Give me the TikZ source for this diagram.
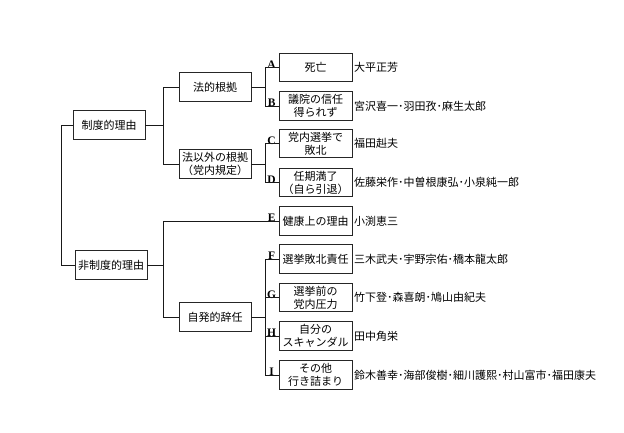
\documentclass[tikz,border=0pt]{standalone}
\usepackage{fontspec}
\setmainfont{Liberation Serif}
\newfontfamily\jp{Noto Sans CJK JP}
\begin{document}
\begin{tikzpicture}[x=1pt,y=-1pt,
  box/.style={draw=black!85,line width=0.8pt,minimum width=73pt,minimum height=28.5pt,inner sep=1pt,align=center,font=\jp\fontsize{11}{13}\selectfont},
  wbox/.style={box,minimum width=72pt},
  who/.style={anchor=west,inner sep=1.5pt,font=\jp\fontsize{11}{13}\selectfont},
  lett/.style={anchor=south,inner sep=0.5pt,font=\bfseries\fontsize{11.5}{11.5}\selectfont},
  conn/.style={line width=0.8pt,black!90}]
\useasboundingbox (0,0) rectangle (624,432);
\coordinate (x0) at (61,0);
\coordinate (x1) at (163,0);
\coordinate (x2) at (265,0);
% level 1
\node[wbox] (s1) at (109,125) {制度的理由};
\node[wbox] (s2) at (111,265) {非制度的理由};
% level 2
\node[wbox] (k1) at (215,87) {法的根拠};
\node[wbox] (k2) at (215,164) {法以外の根拠\\（党内規定）};
\node[wbox] (k3) at (215,317) {自発的辞任};
% level 3
\node[box] (A) at (315.5,67.5) {死亡};
\node[box] (B) at (315.5,106) {議院の信任\\得られず};
\node[box] (C) at (315.5,143.5) {党内選挙で\\敗北};
\node[box] (D) at (315.5,182.5) {任期満了\\（自ら引退）};
\node[box] (E) at (315.5,221) {健康上の理由};
\node[box] (F) at (315.5,259) {選挙敗北責任};
\node[box] (G) at (315.5,297.5) {選挙前の\\党内圧力};
\node[box] (H) at (315.5,336) {自分の\\スキャンダル};
\node[box] (I) at (315.5,375) {その他\\行き詰まり};
% letters
\foreach \n in {A,B,C,D,E,F,G,H,I}
  \node[lett] (l\n) at ([xshift=-7pt,yshift=-1.5pt]\n.west) {\n};
% names
\node[who] (nA) at (A.east) {大平正芳};
\node[who] (nB) at (B.east) {宮沢喜一･羽田孜･麻生太郎};
\node[who] (nC) at (C.east) {福田赳夫};
\node[who] (nD) at (D.east) {佐藤栄作･中曽根康弘･小泉純一郎};
\node[who] (nE) at (E.east) {小渕恵三};
\node[who] (nF) at (F.east) {三木武夫･宇野宗佑･橋本龍太郎};
\node[who] (nG) at (G.east) {竹下登･森喜朗･鳩山由紀夫};
\node[who] (nH) at (H.east) {田中角栄};
\node[who] (nI) at (I.east) {鈴木善幸･海部俊樹･細川護熙･村山富市･福田康夫};
% connectors
\draw[conn] (s1.west) -- (s1.west -| x0) -- (s2.west -| x0) -- (s2.west);
\draw[conn] (s1.east) -- (s1.east -| x1);
\draw[conn] (k1.west) -- (k1.west -| x1) -- (k2.west -| x1) -- (k2.west);
\draw[conn] (s2.east) -- (s2.east -| x1);
\draw[conn] (E.west) -- (E.west -| x1) -- (k3.west -| x1) -- (k3.west);
\draw[conn] (k1.east) -- (k1.east -| x2);
\draw[conn] (A.west) -- (A.west -| x2) -- (B.west -| x2) -- (B.west);
\draw[conn] (k2.east) -- (k2.east -| x2);
\draw[conn] (C.west) -- (C.west -| x2) -- (D.west -| x2) -- (D.west);
\draw[conn] (k3.east) -- (k3.east -| x2);
\draw[conn] (F.west) -- (F.west -| x2) -- (I.west -| x2) -- (I.west);
\draw[conn] (G.west -| x2) -- (G.west);
\draw[conn] (H.west -| x2) -- (H.west);
\end{tikzpicture}
\end{document}
